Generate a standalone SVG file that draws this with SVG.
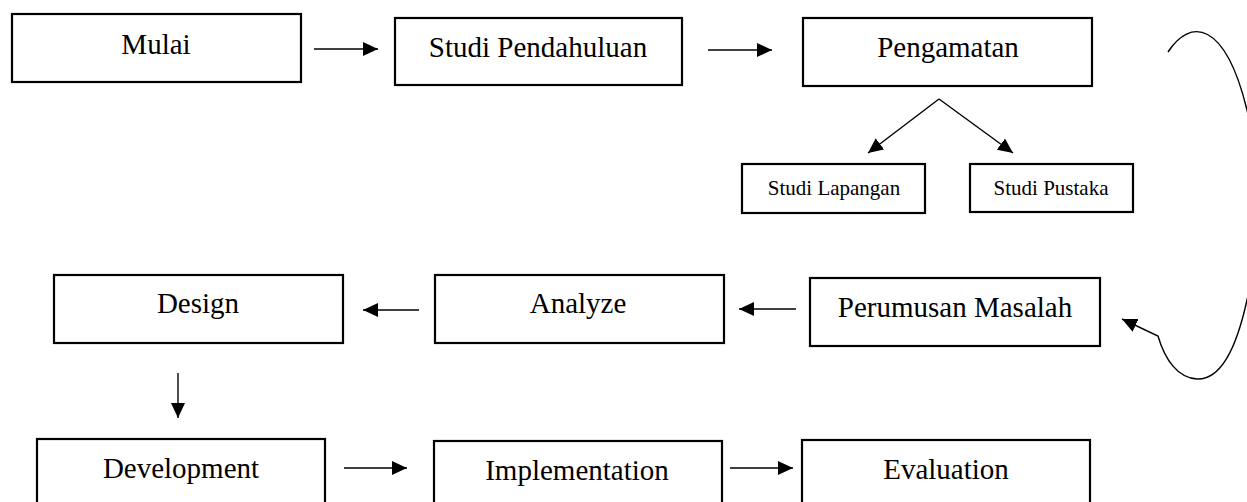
<svg xmlns="http://www.w3.org/2000/svg" width="1247" height="502" viewBox="0 0 1247 502">
<style>
.box{fill:#fff;stroke:#000;stroke-width:2.2}
.t{font-family:"Liberation Serif","Times New Roman",serif;font-size:29px;fill:#000;text-anchor:middle}
.s{font-family:"Liberation Serif","Times New Roman",serif;font-size:21px;fill:#000;text-anchor:middle}
.c{fill:none;stroke:#000;stroke-width:1.4}
</style>
<defs>
<marker id="ah" viewBox="0 0 15 14" refX="15" refY="7" markerWidth="15" markerHeight="14" markerUnits="userSpaceOnUse" orient="auto"><path d="M0,0 L15,7 L0,14 z" fill="#000"/></marker>
</defs>
<rect width="1247" height="502" fill="#fff"/>
<g id="mulai"><rect class="box" x="12" y="14" width="289" height="68"/><text class="t" x="156" y="54">Mulai</text></g>
<g id="studi-pendahuluan"><rect class="box" x="395" y="18" width="287" height="67"/><text class="t" x="538" y="57">Studi Pendahuluan</text></g>
<g id="pengamatan"><rect class="box" x="803" y="18" width="289" height="68"/><text class="t" x="948" y="57">Pengamatan</text></g>
<g id="studi-lapangan"><rect class="box" x="742" y="164" width="183" height="49"/><text class="s" x="834" y="195">Studi Lapangan</text></g>
<g id="studi-pustaka"><rect class="box" x="970" y="164" width="163" height="48"/><text class="s" x="1051" y="195">Studi Pustaka</text></g>
<g id="design"><rect class="box" x="54" y="275" width="289" height="68"/><text class="t" x="198" y="313">Design</text></g>
<g id="analyze"><rect class="box" x="435" y="275" width="289" height="68"/><text class="t" x="578" y="313">Analyze</text></g>
<g id="perumusan-masalah"><rect class="box" x="810" y="278" width="290" height="68"/><text class="t" x="955" y="317">Perumusan Masalah</text></g>
<g id="development"><rect class="box" x="37" y="439" width="288" height="80"/><text class="t" x="181" y="478">Development</text></g>
<g id="implementation"><rect class="box" x="434" y="441" width="288" height="80"/><text class="t" x="577" y="480">Implementation</text></g>
<g id="evaluation"><rect class="box" x="802" y="440" width="288" height="80"/><text class="t" x="946" y="479">Evaluation</text></g>
<g id="connectors">
<line class="c" x1="314" y1="49" x2="378" y2="49" marker-end="url(#ah)"/>
<line class="c" x1="708" y1="50" x2="772" y2="50" marker-end="url(#ah)"/>
<line class="c" x1="939" y1="99" x2="868" y2="153" marker-end="url(#ah)"/>
<line class="c" x1="939" y1="99" x2="1013" y2="153" marker-end="url(#ah)"/>
<path class="c" d="M1168,52 C1190,18 1225,20 1247,110 C1262,170 1262,240 1247,300 C1235,355 1218,380 1197,379 C1178,378 1165,360 1158,336 L1122,319" marker-end="url(#ah)"/>
<line class="c" x1="796" y1="309" x2="739" y2="309" marker-end="url(#ah)"/>
<line class="c" x1="419" y1="310" x2="363" y2="310" marker-end="url(#ah)"/>
<line class="c" x1="178" y1="373" x2="178" y2="418" marker-end="url(#ah)"/>
<line class="c" x1="344" y1="468" x2="407" y2="468" marker-end="url(#ah)"/>
<line class="c" x1="730" y1="468" x2="793" y2="468" marker-end="url(#ah)"/>
</g>
</svg>
